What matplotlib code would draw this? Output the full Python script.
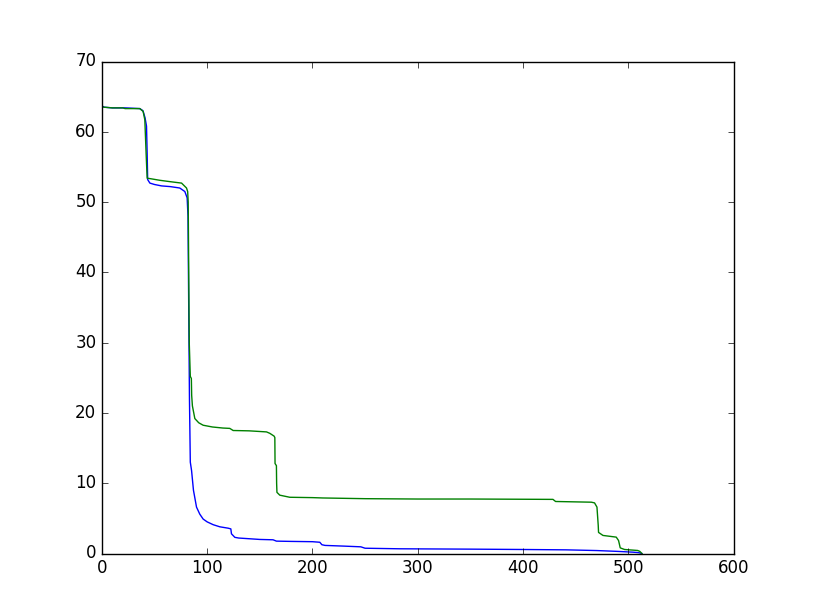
import matplotlib
matplotlib.use('Agg')
import matplotlib.pyplot as plt

# blue series (sorted values)
blue_x = [0, 2, 10, 22, 36, 39, 41, 42.4, 43, 43.5, 45.6, 50, 56.7, 65, 74, 78.8, 81, 81.8,
          82.5, 83.2, 84, 85.2, 87, 89.9, 93, 96.2, 100, 105.7, 112, 120, 122.5, 123.1,
          126.3, 130, 140, 150, 162.6, 165.8, 180, 200, 207, 209, 212, 230, 246, 250,
          283, 350, 400, 441, 470, 490, 504.4, 510, 513]
blue_y = [63.7, 63.5, 63.4, 63.4, 63.3, 63.0, 62.0, 60.8, 57.0, 53.2, 52.7, 52.5, 52.3, 52.2,
          52.0, 51.5, 50.6, 48.0, 35.0, 22.0, 13.0, 11.8, 9.0, 6.6, 5.6, 4.9, 4.5, 4.1, 3.8,
          3.6, 3.5, 2.8, 2.3, 2.2, 2.1, 2.0, 1.95, 1.76, 1.72, 1.68, 1.6, 1.25, 1.15, 1.05,
          0.95, 0.75, 0.67, 0.62, 0.57, 0.52, 0.42, 0.3, 0.19, 0.12, 0.0]

# green series
green_x = [0, 2, 10, 20, 22, 36, 39.2, 40.8, 42, 43, 47.2, 55, 65, 75.7, 80.4, 81.5, 82,
           82.5, 83, 84, 85, 85.3, 86, 88.3, 92, 96.2, 105, 115, 121.5, 124.7, 140, 156.4,
           159.5, 163.6, 164.3, 164.5, 165.8, 166, 166.3, 169, 178.5, 200, 210, 250, 300,
           350, 428.5, 431, 465, 468, 470.3, 471.5, 471.8, 476, 488.6, 490.8, 491.8, 492.4,
           496.5, 509, 511, 513]
green_y = [63.6, 63.5, 63.4, 63.4, 63.3, 63.3, 62.9, 61.7, 57.0, 53.4, 53.3, 53.1, 52.9, 52.7,
           52.0, 51.5, 50.0, 40.0, 30.0, 25.2, 24.9, 22.5, 21.0, 19.2, 18.6, 18.25, 18.0, 17.85,
           17.8, 17.5, 17.45, 17.3, 17.1, 16.7, 16.5, 12.8, 12.5, 10.0, 8.7, 8.3, 8.0, 7.95,
           7.9, 7.8, 7.75, 7.75, 7.7, 7.4, 7.3, 7.2, 6.6, 4.0, 3.0, 2.57, 2.33, 1.85, 1.2, 0.8,
           0.57, 0.43, 0.3, 0.0]

plt.style.use('classic')
fig = plt.figure(figsize=(8.15, 6.15), dpi=100)
fig.patch.set_facecolor('white')
ax = fig.add_subplot(111)

ax.plot(blue_x, blue_y, color='b')
ax.plot(green_x, green_y, color='g')

ax.set_xlim(0, 600)
ax.set_ylim(0, 70)

fig.savefig('out.png', dpi=100, facecolor='white')
